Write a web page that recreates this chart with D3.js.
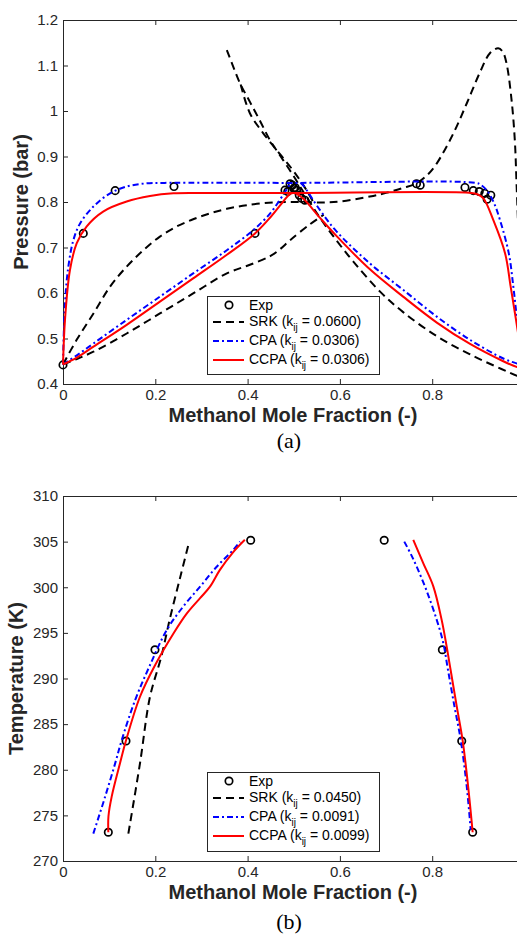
<!DOCTYPE html>
<html>
<head>
<meta charset="utf-8">
<script src="https://cdn.jsdelivr.net/npm/d3@7"></script>
<style>
  html, body { margin: 0; padding: 0; background: #fff; }
  svg { display: block; }
  text { font-family: "Liberation Sans", Arial, Helvetica, sans-serif; }
</style>
</head>
<body>
<svg id="fig" width="517" height="936"></svg>
<script>
// ---------- (a) P–x diagram, methanol mole fraction vs pressure (bar) ----------
const expPX = [0, 0.044, 0.113, 0.2405, 0.416, 0.481, 0.487, 0.492, 0.497, 0.500, 0.503, 0.506, 0.512, 0.517, 0.524, 0.766, 0.774, 0.871, 0.889, 0.902, 0.914, 0.919, 0.927];
const expPP = [0.442, 0.731, 0.825, 0.834, 0.731, 0.826, 0.823, 0.840, 0.837, 0.830, 0.832, 0.826, 0.815, 0.808, 0.804, 0.840, 0.837, 0.832, 0.825, 0.823, 0.819, 0.806, 0.815];

// SRK branches [x, P]
const srkBubbleP = [[0,0.443],[0.0296,0.497],[0.066,0.555],[0.102,0.614],[0.138,0.658],[0.174,0.694],[0.21,0.724],[0.246,0.746],[0.282,0.762],[0.3185,0.775],[0.355,0.785],[0.398,0.793],[0.456,0.799],[0.51,0.800],[0.56,0.799],[0.60,0.801],[0.665,0.812],[0.70,0.820],[0.737,0.831],[0.766,0.841],[0.79,0.860],[0.81,0.885],[0.846,0.951],[0.875,1.017],[0.9035,1.085],[0.925,1.127],[0.943,1.138],[0.953,1.130],[0.961,1.105],[0.972,1.024],[0.979,0.936],[0.983,0.834],[0.99,0.65],[1.0,0.405]];
const srkDewLeftP = [[0,0.443],[0.03,0.455],[0.066,0.471],[0.138,0.511],[0.21,0.555],[0.282,0.599],[0.355,0.643],[0.405,0.662],[0.449,0.681],[0.47,0.696],[0.492,0.716],[0.535,0.751],[0.565,0.772]];
const srkDewRightP = [[0.355,1.134],[0.369,1.097],[0.3835,1.061],[0.405,1.02],[0.427,0.978],[0.4485,0.936],[0.477,0.892],[0.499,0.858],[0.521,0.822],[0.557,0.765],[0.593,0.715],[0.63,0.668],[0.687,0.603],[0.737,0.558],[0.81,0.505],[0.882,0.465],[0.95,0.433],[0.984,0.418],[1.0,0.412]];
const srkDewUpperP = [[0.385,1.058],[0.405,0.995],[0.434,0.951],[0.463,0.914],[0.492,0.878],[0.5135,0.848],[0.53,0.822],[0.545,0.795]];

// CPA branches [x, P]
const cpaBubbleP = [[0,0.443],[0.0043,0.577],[0.0116,0.658],[0.0224,0.716],[0.037,0.753],[0.066,0.790],[0.102,0.819],[0.138,0.834],[0.181,0.841],[0.22,0.842],[0.5,0.842],[0.895,0.842],[0.905,0.838],[0.918,0.826],[0.933,0.800],[0.947,0.760],[0.966,0.687],[0.9758,0.614],[0.984,0.541],[0.992,0.48],[1.0,0.44]];
const cpaDewLeftP = [[0,0.443],[0.03,0.463],[0.066,0.489],[0.138,0.541],[0.21,0.592],[0.282,0.643],[0.355,0.694],[0.412,0.738],[0.449,0.775],[0.470,0.805],[0.485,0.828],[0.493,0.842]];
const cpaDewRightP = [[0.515,0.842],[0.521,0.836],[0.557,0.782],[0.593,0.735],[0.665,0.665],[0.737,0.607],[0.81,0.548],[0.882,0.497],[0.954,0.456],[0.984,0.445],[1.0,0.44]];

// CCPA branches [x, P]
const ccpaBubbleP = [[0,0.443],[0.0043,0.541],[0.015,0.650],[0.0296,0.709],[0.051,0.746],[0.087,0.779],[0.138,0.801],[0.1885,0.813],[0.239,0.819],[0.29,0.820],[0.5,0.820],[0.885,0.820],[0.898,0.817],[0.911,0.808],[0.9325,0.760],[0.958,0.687],[0.970,0.614],[0.9816,0.541],[0.991,0.48],[1.0,0.43]];
const ccpaDewLeftP = [[0,0.443],[0.03,0.458],[0.066,0.482],[0.138,0.530],[0.21,0.581],[0.282,0.632],[0.355,0.684],[0.416,0.731],[0.449,0.766],[0.47,0.792],[0.492,0.818],[0.499,0.820]];
const ccpaDewRightP = [[0.503,0.820],[0.521,0.807],[0.557,0.765],[0.593,0.725],[0.665,0.652],[0.737,0.592],[0.81,0.535],[0.882,0.488],[0.954,0.450],[0.984,0.437],[1.0,0.432]];

// ---------- (b) T–x diagram, methanol mole fraction vs temperature (K) ----------
const expTX = [0.0982, 0.1365, 0.1993, 0.4067, 0.696, 0.822, 0.864, 0.8877];
const expTT = [273.15, 283.15, 293.15, 305.15, 305.15, 293.15, 283.15, 273.15];

const srkLeftT = [[0.1416,273.0],[0.1668,280.7],[0.1885,288.0],[0.213,292.4],[0.2318,296.6],[0.2535,301.0],[0.2715,304.6]];
const cpaLeftT = [[0.0657,273.0],[0.091,277.0],[0.113,280.7],[0.127,283.2],[0.156,287.6],[0.187,291.3],[0.2247,295.3],[0.2607,297.9],[0.297,300.06],[0.333,302.25],[0.369,304.1],[0.3835,305.0]];
const ccpaLeftT = [[0.0982,273.15],[0.0985,274.9],[0.1055,277.05],[0.1235,280.7],[0.1365,283.2],[0.1668,288.0],[0.2,291.5],[0.239,294.9],[0.268,297.1],[0.297,298.8],[0.3185,300.06],[0.34,301.9],[0.368,303.8],[0.394,305.2]];
const cpaRightT = [[0.7395,305.0],[0.754,303.6],[0.766,302.3],[0.788,299.6],[0.81,296.4],[0.824,293.9],[0.834,291.0],[0.848,287.0],[0.862,283.2],[0.875,278.1],[0.8834,273.4]];
const ccpaRightT = [[0.759,305.2],[0.781,302.6],[0.8024,300.1],[0.8206,296.4],[0.831,293.6],[0.840,290.9],[0.853,287.0],[0.866,283.2],[0.878,278.1],[0.8877,273.15]];

// Axis ticks and legend text
const xTickMarks = [0, 0.2, 0.4, 0.6, 0.8, 1];
const xTickLabels = [0, 0.2, 0.4, 0.6, 0.8];
const pTicks = [0.4, 0.5, 0.6, 0.7, 0.8, 0.9, 1.0, 1.1, 1.2];
const tTicks = [270, 275, 280, 285, 290, 295, 300, 305, 310];
const modelNames = ["SRK", "CPA", "CCPA"];
const kijTop = ["0.0600", "0.0306", "0.0306"];
const kijBottom = ["0.0450", "0.0091", "0.0099"];

// ---------- drawing ----------
const svg = d3.select("#fig");
const AXIS = "#262626";
const styles = {
  SRK:  { color: "#000000", dash: "8,5" },
  CPA:  { color: "#0000ff", dash: "6,3,2,3" },
  CCPA: { color: "#ff0000", dash: null }
};
const trimNum = d => d3.format(".1f")(d).replace(/\.0$/, "");

function panel(opts) {
  const g = svg.append("g");
  const x = d3.scaleLinear().domain([0, 1]).range([63, 524.5]);
  const y = d3.scaleLinear().domain(opts.yDomain).range([opts.yBottom, opts.yTop]);

  const styleAxis = sel => {
    sel.select(".domain").attr("stroke", AXIS);
    sel.selectAll(".tick line").attr("stroke", AXIS);
    sel.selectAll(".tick text").attr("fill", AXIS).style("font-size", "15px")
       .style("font-family", '"Liberation Sans", Arial, Helvetica, sans-serif');
  };

  // bottom: tick marks everywhere, labels only where they fit in the window
  g.append("g").attr("transform", `translate(0,${opts.yBottom})`)
    .call(d3.axisBottom(x).tickValues(xTickMarks).tickSizeInner(-5).tickSizeOuter(0).tickPadding(5)
      .tickFormat(d => xTickLabels.includes(d) ? trimNum(d) : ""))
    .call(styleAxis);
  g.append("g").attr("transform", `translate(0,${opts.yTop})`)
    .call(d3.axisTop(x).tickValues(xTickMarks).tickSizeInner(-5).tickSizeOuter(0).tickFormat(""))
    .call(styleAxis);
  g.append("g").attr("transform", `translate(63,0)`)
    .call(d3.axisLeft(y).tickValues(opts.yTicks).tickSizeInner(-5).tickSizeOuter(0).tickPadding(5).tickFormat(opts.yFormat))
    .call(styleAxis);
  g.append("g").attr("transform", `translate(524.5,0)`)
    .call(d3.axisRight(y).tickValues(opts.yTicks).tickSizeInner(-5).tickSizeOuter(0).tickFormat(""))
    .call(styleAxis);

  // axis titles
  g.append("text").attr("x", 293).attr("y", opts.xTitleY)
    .attr("text-anchor", "middle").attr("font-weight", "bold").attr("font-size", 20).attr("fill", AXIS)
    .text("Methanol Mole Fraction (-)");
  g.append("text").attr("transform", `translate(${opts.yTitleX},${(opts.yTop + opts.yBottom) / 2}) rotate(-90)`)
    .attr("text-anchor", "middle").attr("font-weight", "bold").attr("font-size", 20).attr("fill", AXIS)
    .text(opts.yTitle);
  g.append("text").attr("x", 289).attr("y", opts.tagY)
    .attr("text-anchor", "middle").attr("font-size", 22).attr("fill", "#000")
    .style("font-family", '"Liberation Serif", "Times New Roman", Times, serif')
    .text(opts.tag);

  // experimental points
  g.append("g").selectAll("circle").data(opts.expX.map((v, i) => [v, opts.expY[i]]))
    .join("circle")
    .attr("cx", d => x(d[0])).attr("cy", d => y(d[1])).attr("r", 3.7)
    .attr("fill", "none").attr("stroke", "#000").attr("stroke-width", 1.7);

  // model curves
  const line = d3.line().x(d => x(d[0])).y(d => y(d[1])).curve(d3.curveCatmullRom.alpha(0.5));
  opts.curves.forEach(c => {
    const st = styles[c.model];
    g.append("path").datum(c.data).attr("d", line)
      .attr("fill", "none").attr("stroke", st.color).attr("stroke-width", 2)
      .attr("stroke-dasharray", st.dash).attr("stroke-linejoin", "round");
  });

  // legend
  const L = opts.legend;
  const lg = g.append("g");
  lg.append("rect").attr("x", L.x + 0.5).attr("y", L.y + 0.5).attr("width", L.w).attr("height", L.h)
    .attr("fill", "#fff").attr("stroke", AXIS).attr("stroke-width", 1);
  const rows = [9, 26, 45, 64];
  lg.append("circle").attr("cx", L.x + 22).attr("cy", L.y + rows[0]).attr("r", 3.7)
    .attr("fill", "none").attr("stroke", "#000").attr("stroke-width", 1.7);
  lg.append("text").attr("x", L.x + 42).attr("y", L.y + rows[0] + 5)
    .attr("font-size", 14).attr("fill", "#000").text("Exp");
  modelNames.forEach((m, i) => {
    const ry = L.y + rows[i + 1];
    const st = styles[m];
    lg.append("line").attr("x1", L.x + 6).attr("x2", L.x + 37).attr("y1", ry).attr("y2", ry)
      .attr("stroke", st.color).attr("stroke-width", 2).attr("stroke-dasharray", st.dash);
    const t = lg.append("text").attr("x", L.x + 42).attr("y", ry + 4).attr("font-size", 14).attr("fill", "#000");
    t.append("tspan").text(`${m} (k`);
    t.append("tspan").attr("font-size", 10).attr("dy", 5).text("ij");
    t.append("tspan").attr("dy", -5).text(` = ${L.kij[i]})`);
  });
}

panel({
  yDomain: [0.4, 1.2], yTop: 20, yBottom: 384, yTicks: pTicks, yFormat: trimNum,
  xTitleY: 421.5, yTitleX: 28, yTitle: "Pressure (bar)", tagY: 448, tag: "(a)",
  expX: expPX, expY: expPP,
  curves: [
    { model: "SRK", data: srkBubbleP }, { model: "SRK", data: srkDewLeftP },
    { model: "SRK", data: srkDewRightP }, { model: "SRK", data: srkDewUpperP },
    { model: "CPA", data: cpaBubbleP }, { model: "CPA", data: cpaDewLeftP }, { model: "CPA", data: cpaDewRightP },
    { model: "CCPA", data: ccpaBubbleP }, { model: "CCPA", data: ccpaDewLeftP }, { model: "CCPA", data: ccpaDewRightP }
  ],
  legend: { x: 207, y: 296, w: 172, h: 78, kij: kijTop }
});

panel({
  yDomain: [270, 310], yTop: 496, yBottom: 861, yTicks: tTicks, yFormat: d3.format("d"),
  xTitleY: 899, yTitleX: 23, yTitle: "Temperature (K)", tagY: 929, tag: "(b)",
  expX: expTX, expY: expTT,
  curves: [
    { model: "SRK", data: srkLeftT },
    { model: "CPA", data: cpaLeftT }, { model: "CPA", data: cpaRightT },
    { model: "CCPA", data: ccpaLeftT }, { model: "CCPA", data: ccpaRightT }
  ],
  legend: { x: 207, y: 772, w: 172, h: 79, kij: kijBottom }
});
</script>
</body>
</html>
